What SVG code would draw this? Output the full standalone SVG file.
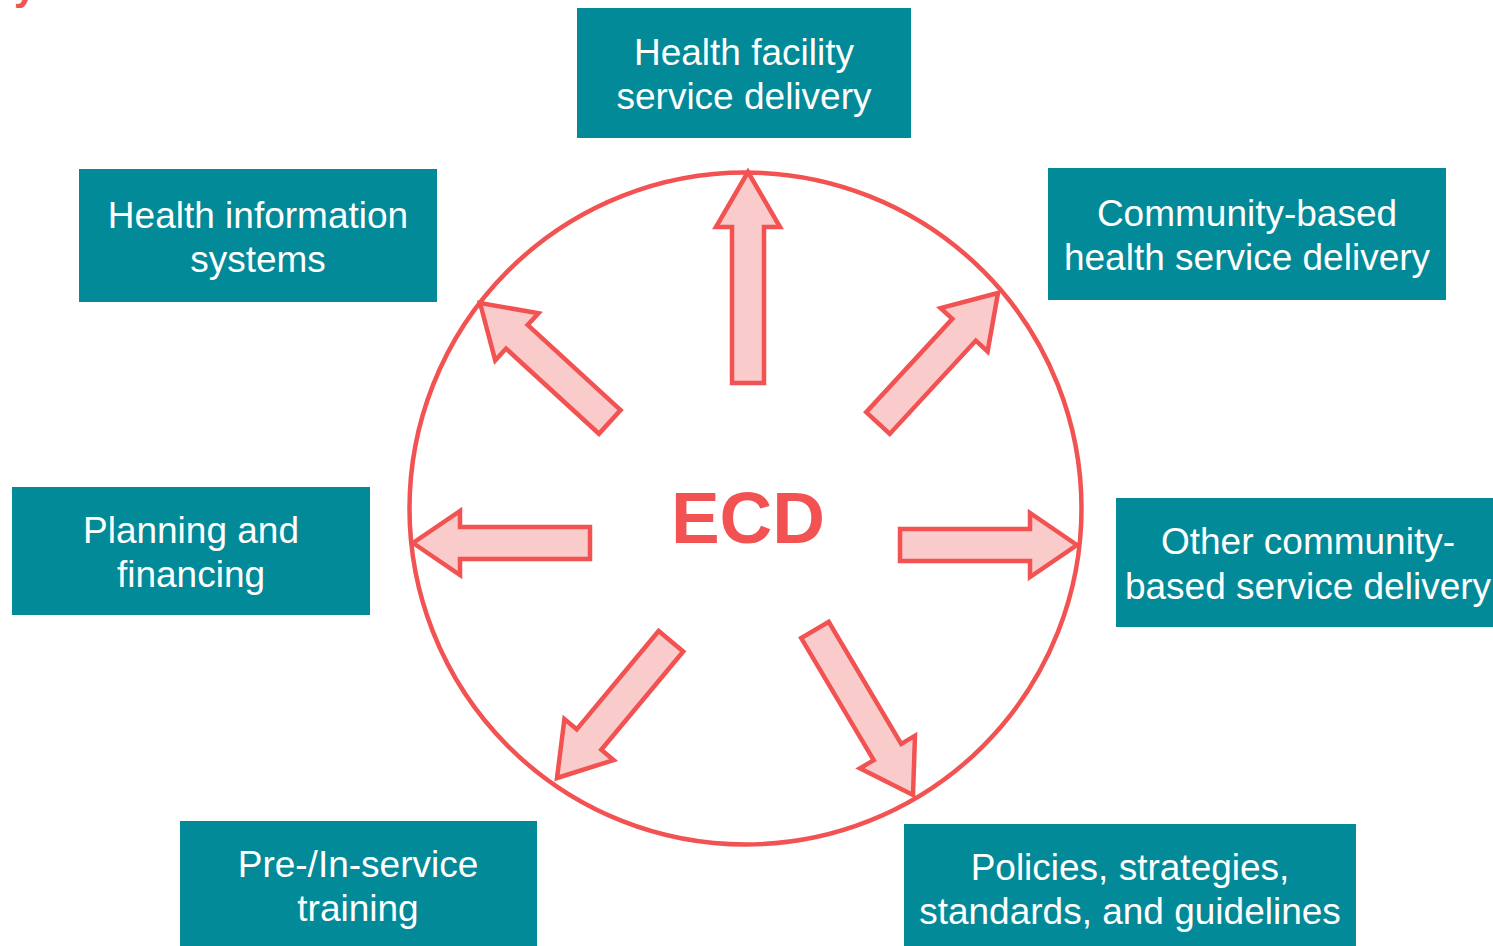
<svg xmlns="http://www.w3.org/2000/svg" width="1493" height="946" viewBox="0 0 1493 946">
  <defs>
    <style>
      .box { fill: #028A98; }
      .lbl { fill: #ffffff; font-family: "Liberation Sans", Arial, sans-serif; font-size: 37px; text-anchor: middle; }
      .arrow { fill: #F9CBCB; stroke: #F25252; stroke-width: 4.5; stroke-linejoin: miter; }
      .ring { fill: none; stroke: #F25252; stroke-width: 4.5; }
    </style>
  </defs>
  <rect width="1493" height="946" fill="#ffffff"/>

  <text x="14" y="0" font-family="Liberation Sans, Arial, sans-serif" font-size="40" font-weight="bold" fill="#F25252">y</text>

  <g id="hub">
    <circle class="ring" cx="745.5" cy="508.5" r="336"/>
    <text x="748" y="543" font-family="Liberation Sans, Arial, sans-serif" font-size="73" font-weight="bold" fill="#F25252" text-anchor="middle">ECD</text>
  </g>

  <g id="connectors">
    <polygon class="arrow" transform="translate(748,172) rotate(-90)" points="0,0 -55,-32 -55,-16 -211,-16 -211,16 -55,16 -55,32"/>
    <polygon class="arrow" transform="translate(413,543) rotate(180)" points="0,0 -47,-32 -47,-16 -177,-16 -177,16 -47,16 -47,32"/>
    <polygon class="arrow" transform="translate(1077,545)" points="0,0 -47,-32 -47,-16 -177,-16 -177,16 -47,16 -47,32"/>
    <polygon class="arrow" transform="translate(480,303) rotate(222.5)" points="0,0 -50,-32 -50,-16 -176,-16 -176,16 -50,16 -50,32"/>
    <polygon class="arrow" transform="translate(998,293) rotate(-47.3)" points="0,0 -50,-32 -50,-16 -177,-16 -177,16 -50,16 -50,32"/>
    <polygon class="arrow" transform="translate(557,778) rotate(129.8)" points="0,0 -50,-32 -50,-16 -178,-16 -178,16 -50,16 -50,32"/>
    <polygon class="arrow" transform="translate(913,795) rotate(59.3)" points="0,0 -50,-32 -50,-16 -192,-16 -192,16 -50,16 -50,32"/>
  </g>

  <g id="health-facility">
    <rect class="box" x="577" y="8" width="334" height="130"/>
    <text class="lbl" x="744" y="65">Health facility</text>
    <text class="lbl" x="744" y="109">service delivery</text>
  </g>

  <g id="health-information">
    <rect class="box" x="79" y="169" width="358" height="133"/>
    <text class="lbl" x="258" y="228">Health information</text>
    <text class="lbl" x="258" y="272">systems</text>
  </g>

  <g id="community-health">
    <rect class="box" x="1048" y="168" width="398" height="132"/>
    <text class="lbl" x="1247" y="226">Community-based</text>
    <text class="lbl" x="1247" y="270">health service delivery</text>
  </g>

  <g id="planning">
    <rect class="box" x="12" y="487" width="358" height="128"/>
    <text class="lbl" x="191" y="543">Planning and</text>
    <text class="lbl" x="191" y="587">financing</text>
  </g>

  <g id="other-community">
    <rect class="box" x="1116" y="498" width="390" height="129"/>
    <text class="lbl" x="1308" y="554">Other community-</text>
    <text class="lbl" x="1308" y="599">based service delivery</text>
  </g>

  <g id="training">
    <rect class="box" x="180" y="821" width="357" height="140"/>
    <text class="lbl" x="358" y="877">Pre-/In-service</text>
    <text class="lbl" x="358" y="921">training</text>
  </g>

  <g id="policies">
    <rect class="box" x="904" y="824" width="452" height="140"/>
    <text class="lbl" x="1130" y="880">Policies, strategies,</text>
    <text class="lbl" x="1130" y="924">standards, and guidelines</text>
  </g>
</svg>
